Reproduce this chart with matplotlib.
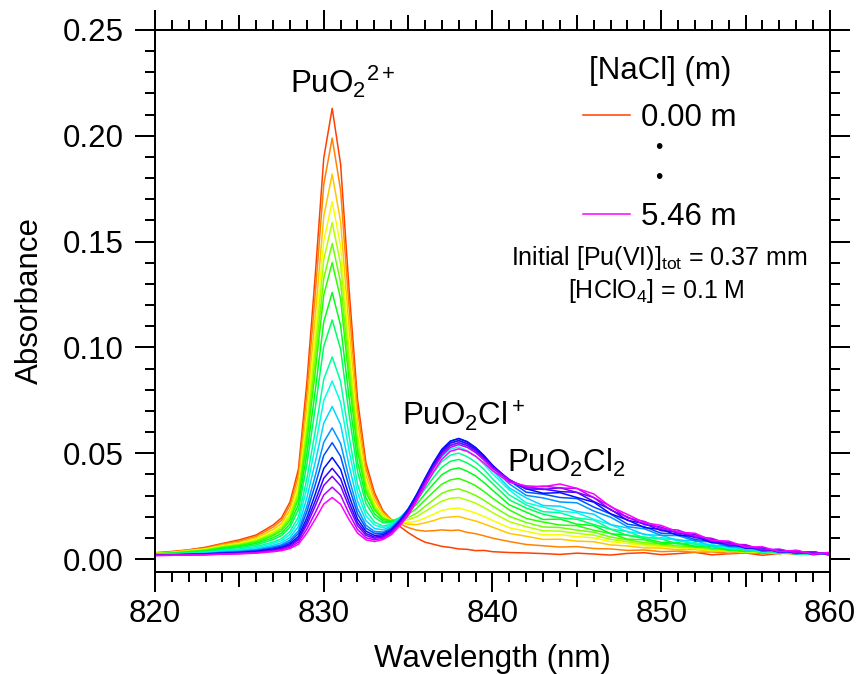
import matplotlib
matplotlib.use('Agg')
import matplotlib.pyplot as plt
import numpy as np
from matplotlib.colors import hsv_to_rgb
from matplotlib.ticker import MultipleLocator, FormatStrFormatter

plt.rcParams['font.family'] = ['Liberation Sans', 'DejaVu Sans']
plt.rcParams['mathtext.fontset'] = 'custom'
plt.rcParams['mathtext.rm'] = 'Liberation Sans'
plt.rcParams['mathtext.it'] = 'Liberation Sans:italic'
plt.rcParams['mathtext.default'] = 'regular'

# wavelength grid (nm)
wavelength = [820, 821, 822, 823, 824, 825, 826, 827,
              827.5, 828, 828.5, 829, 829.5, 830, 830.5, 831, 831.5, 832, 832.5, 833,
              833.5, 834, 834.5, 835, 835.5, 836, 836.5, 837, 837.5, 838, 838.5, 839,
              839.5, 840,
              841, 842, 843, 844, 845, 846, 847, 848, 849, 850, 851, 852, 853, 854,
              855, 856, 857, 858, 859, 860]

# absorbance spectra, [NaCl] = 0.00 m ... 5.46 m
s00 = [0.0030, 0.0036, 0.0044, 0.0056, 0.0074, 0.0091, 0.0114, 0.0161,
       0.0195, 0.0270, 0.0425, 0.0835, 0.1345, 0.1895, 0.2130, 0.1865, 0.1275, 0.0755, 0.0455, 0.0315,
       0.0230, 0.0185, 0.0155, 0.0125, 0.0100, 0.0080, 0.0070, 0.0060, 0.0055, 0.0048, 0.0046, 0.0040,
       0.0041, 0.0035,
       0.0031, 0.0029, 0.0026, 0.0022, 0.0028, 0.0024, 0.0019, 0.0027, 0.0030, 0.0021, 0.0026, 0.0032,
       0.0020, 0.0025, 0.0029, 0.0018, 0.0027, 0.0033, 0.0021, 0.0026]
s01 = [0.0029, 0.0034, 0.0043, 0.0052, 0.0071, 0.0085, 0.0108, 0.0151,
       0.0183, 0.0254, 0.0398, 0.0781, 0.1257, 0.1770, 0.1989, 0.1743, 0.1193, 0.0708, 0.0429, 0.0300,
       0.0225, 0.0188, 0.0167, 0.0149, 0.0137, 0.0132, 0.0134, 0.0138, 0.0135, 0.0137, 0.0126, 0.0120,
       0.0110, 0.0099,
       0.0083, 0.0069, 0.0063, 0.0057, 0.0059, 0.0050, 0.0048, 0.0041, 0.0043, 0.0035, 0.0038, 0.0032,
       0.0034, 0.0028, 0.0031, 0.0026, 0.0029, 0.0023, 0.0028, 0.0024]
s02 = [0.0028, 0.0032, 0.0041, 0.0049, 0.0066, 0.0079, 0.0100, 0.0139,
       0.0169, 0.0233, 0.0365, 0.0715, 0.1150, 0.1619, 0.1819, 0.1594, 0.1092, 0.0650, 0.0396, 0.0280,
       0.0214, 0.0184, 0.0173, 0.0165, 0.0163, 0.0171, 0.0182, 0.0195, 0.0199, 0.0201, 0.0190, 0.0180,
       0.0166, 0.0151,
       0.0121, 0.0108, 0.0093, 0.0094, 0.0085, 0.0082, 0.0067, 0.0062, 0.0053, 0.0052, 0.0044, 0.0045,
       0.0037, 0.0038, 0.0031, 0.0033, 0.0026, 0.0030, 0.0024, 0.0027]
s03 = [0.0027, 0.0031, 0.0039, 0.0047, 0.0062, 0.0074, 0.0094, 0.0130,
       0.0158, 0.0218, 0.0340, 0.0664, 0.1068, 0.1503, 0.1689, 0.1480, 0.1015, 0.0605, 0.0371, 0.0264,
       0.0204, 0.0181, 0.0174, 0.0173, 0.0179, 0.0194, 0.0212, 0.0230, 0.0238, 0.0241, 0.0230, 0.0218,
       0.0201, 0.0183,
       0.0148, 0.0131, 0.0115, 0.0115, 0.0106, 0.0100, 0.0082, 0.0074, 0.0063, 0.0060, 0.0052, 0.0051,
       0.0041, 0.0041, 0.0033, 0.0034, 0.0028, 0.0030, 0.0024, 0.0028]
s04 = [0.0026, 0.0030, 0.0037, 0.0045, 0.0060, 0.0071, 0.0089, 0.0123,
       0.0150, 0.0206, 0.0321, 0.0626, 0.1006, 0.1415, 0.1590, 0.1394, 0.0957, 0.0572, 0.0352, 0.0253,
       0.0199, 0.0181, 0.0180, 0.0186, 0.0200, 0.0225, 0.0250, 0.0274, 0.0287, 0.0291, 0.0279, 0.0264,
       0.0243, 0.0220,
       0.0177, 0.0153, 0.0134, 0.0132, 0.0122, 0.0113, 0.0093, 0.0082, 0.0070, 0.0066, 0.0056, 0.0055,
       0.0044, 0.0043, 0.0035, 0.0035, 0.0028, 0.0030, 0.0025, 0.0028]
s05 = [0.0025, 0.0029, 0.0036, 0.0043, 0.0057, 0.0067, 0.0085, 0.0117,
       0.0142, 0.0194, 0.0302, 0.0588, 0.0944, 0.1327, 0.1491, 0.1308, 0.0898, 0.0538, 0.0333, 0.0241,
       0.0193, 0.0179, 0.0184, 0.0196, 0.0217, 0.0249, 0.0280, 0.0311, 0.0326, 0.0332, 0.0318, 0.0301,
       0.0278, 0.0251,
       0.0202, 0.0173, 0.0152, 0.0149, 0.0137, 0.0127, 0.0104, 0.0091, 0.0077, 0.0072, 0.0062, 0.0059,
       0.0048, 0.0046, 0.0037, 0.0036, 0.0029, 0.0031, 0.0025, 0.0027]
s06 = [0.0025, 0.0028, 0.0035, 0.0041, 0.0054, 0.0064, 0.0080, 0.0111,
       0.0134, 0.0183, 0.0285, 0.0553, 0.0887, 0.1247, 0.1401, 0.1229, 0.0845, 0.0508, 0.0316, 0.0232,
       0.0189, 0.0180, 0.0190, 0.0210, 0.0239, 0.0279, 0.0318, 0.0354, 0.0374, 0.0381, 0.0366, 0.0347,
       0.0319, 0.0288,
       0.0232, 0.0192, 0.0175, 0.0161, 0.0158, 0.0136, 0.0121, 0.0094, 0.0091, 0.0071, 0.0075, 0.0056,
       0.0059, 0.0040, 0.0047, 0.0029, 0.0038, 0.0022, 0.0033, 0.0019]
s07 = [0.0024, 0.0027, 0.0033, 0.0038, 0.0050, 0.0059, 0.0074, 0.0101,
       0.0122, 0.0166, 0.0258, 0.0499, 0.0798, 0.1121, 0.1260, 0.1103, 0.0762, 0.0460, 0.0289, 0.0214,
       0.0180, 0.0177, 0.0195, 0.0221, 0.0259, 0.0308, 0.0355, 0.0399, 0.0422, 0.0431, 0.0415, 0.0393,
       0.0361, 0.0326,
       0.0256, 0.0222, 0.0187, 0.0189, 0.0165, 0.0158, 0.0120, 0.0113, 0.0097, 0.0079, 0.0078, 0.0061,
       0.0062, 0.0044, 0.0035, 0.0046, 0.0025, 0.0037, 0.0031, 0.0019]
s08 = [0.0023, 0.0026, 0.0031, 0.0036, 0.0046, 0.0054, 0.0067, 0.0092,
       0.0111, 0.0151, 0.0233, 0.0448, 0.0716, 0.1005, 0.1130, 0.0992, 0.0685, 0.0415, 0.0263, 0.0198,
       0.0171, 0.0173, 0.0196, 0.0228, 0.0276, 0.0331, 0.0385, 0.0434, 0.0462, 0.0471, 0.0454, 0.0430,
       0.0396, 0.0357,
       0.0280, 0.0241, 0.0212, 0.0195, 0.0188, 0.0163, 0.0141, 0.0112, 0.0104, 0.0095, 0.0071, 0.0078,
       0.0050, 0.0059, 0.0047, 0.0034, 0.0037, 0.0025, 0.0032, 0.0021]
s09 = [0.0022, 0.0024, 0.0028, 0.0033, 0.0041, 0.0048, 0.0059, 0.0080,
       0.0096, 0.0130, 0.0199, 0.0380, 0.0606, 0.0850, 0.0955, 0.0839, 0.0581, 0.0354, 0.0228, 0.0175,
       0.0156, 0.0164, 0.0193, 0.0231, 0.0285, 0.0346, 0.0407, 0.0461, 0.0491, 0.0501, 0.0484, 0.0458,
       0.0424, 0.0379,
       0.0303, 0.0256, 0.0224, 0.0219, 0.0194, 0.0185, 0.0142, 0.0130, 0.0100, 0.0101, 0.0088, 0.0070,
       0.0066, 0.0050, 0.0049, 0.0035, 0.0038, 0.0026, 0.0020, 0.0031]
s10 = [0.0021, 0.0023, 0.0027, 0.0030, 0.0038, 0.0044, 0.0054, 0.0073,
       0.0087, 0.0116, 0.0177, 0.0336, 0.0535, 0.0749, 0.0841, 0.0740, 0.0514, 0.0315, 0.0205, 0.0161,
       0.0148, 0.0160, 0.0193, 0.0236, 0.0295, 0.0363, 0.0428, 0.0485, 0.0519, 0.0530, 0.0513, 0.0486,
       0.0447, 0.0404,
       0.0326, 0.0266, 0.0246, 0.0227, 0.0219, 0.0188, 0.0163, 0.0129, 0.0119, 0.0096, 0.0093, 0.0074,
       0.0069, 0.0052, 0.0051, 0.0034, 0.0039, 0.0025, 0.0033, 0.0020]
s11 = [0.0020, 0.0022, 0.0025, 0.0028, 0.0035, 0.0040, 0.0048, 0.0065,
       0.0077, 0.0102, 0.0154, 0.0290, 0.0459, 0.0642, 0.0721, 0.0635, 0.0442, 0.0274, 0.0181, 0.0145,
       0.0138, 0.0154, 0.0190, 0.0237, 0.0302, 0.0373, 0.0443, 0.0502, 0.0539, 0.0549, 0.0534, 0.0505,
       0.0466, 0.0420,
       0.0336, 0.0289, 0.0253, 0.0250, 0.0225, 0.0212, 0.0163, 0.0147, 0.0116, 0.0112, 0.0088, 0.0088,
       0.0061, 0.0065, 0.0042, 0.0047, 0.0028, 0.0037, 0.0022, 0.0029]
s12 = [0.0019, 0.0021, 0.0024, 0.0026, 0.0032, 0.0036, 0.0043, 0.0058,
       0.0068, 0.0090, 0.0134, 0.0250, 0.0395, 0.0552, 0.0620, 0.0546, 0.0382, 0.0239, 0.0160, 0.0131,
       0.0128, 0.0147, 0.0187, 0.0236, 0.0303, 0.0377, 0.0449, 0.0510, 0.0548, 0.0560, 0.0544, 0.0516,
       0.0477, 0.0432,
       0.0355, 0.0301, 0.0289, 0.0270, 0.0266, 0.0227, 0.0198, 0.0153, 0.0143, 0.0112, 0.0111, 0.0085,
       0.0081, 0.0058, 0.0058, 0.0037, 0.0042, 0.0025, 0.0033, 0.0020]
s13 = [0.0019, 0.0020, 0.0023, 0.0025, 0.0030, 0.0034, 0.0040, 0.0053,
       0.0062, 0.0081, 0.0121, 0.0224, 0.0352, 0.0490, 0.0550, 0.0485, 0.0341, 0.0214, 0.0146, 0.0122,
       0.0122, 0.0143, 0.0184, 0.0236, 0.0305, 0.0382, 0.0455, 0.0518, 0.0557, 0.0569, 0.0554, 0.0526,
       0.0487, 0.0442,
       0.0370, 0.0316, 0.0307, 0.0291, 0.0286, 0.0246, 0.0213, 0.0165, 0.0153, 0.0122, 0.0119, 0.0092,
       0.0086, 0.0062, 0.0061, 0.0039, 0.0044, 0.0027, 0.0034, 0.0020]
s14 = [0.0018, 0.0019, 0.0022, 0.0024, 0.0028, 0.0031, 0.0037, 0.0048,
       0.0056, 0.0073, 0.0107, 0.0196, 0.0308, 0.0428, 0.0480, 0.0424, 0.0299, 0.0190, 0.0132, 0.0112,
       0.0115, 0.0138, 0.0180, 0.0233, 0.0303, 0.0380, 0.0454, 0.0518, 0.0557, 0.0570, 0.0555, 0.0527,
       0.0489, 0.0444,
       0.0369, 0.0332, 0.0311, 0.0314, 0.0291, 0.0269, 0.0214, 0.0185, 0.0149, 0.0140, 0.0112, 0.0108,
       0.0077, 0.0076, 0.0051, 0.0053, 0.0032, 0.0039, 0.0023, 0.0030]
s15 = [0.0018, 0.0019, 0.0021, 0.0023, 0.0027, 0.0029, 0.0034, 0.0044,
       0.0052, 0.0067, 0.0097, 0.0177, 0.0276, 0.0382, 0.0429, 0.0380, 0.0269, 0.0172, 0.0121, 0.0104,
       0.0109, 0.0132, 0.0174, 0.0227, 0.0296, 0.0373, 0.0446, 0.0509, 0.0548, 0.0560, 0.0546, 0.0519,
       0.0483, 0.0440,
       0.0376, 0.0331, 0.0331, 0.0319, 0.0315, 0.0272, 0.0235, 0.0183, 0.0168, 0.0134, 0.0129, 0.0101,
       0.0093, 0.0067, 0.0065, 0.0042, 0.0045, 0.0028, 0.0034, 0.0021]
s16 = [0.0018, 0.0019, 0.0020, 0.0022, 0.0025, 0.0028, 0.0032, 0.0042,
       0.0048, 0.0062, 0.0090, 0.0162, 0.0252, 0.0348, 0.0391, 0.0346, 0.0246, 0.0158, 0.0112, 0.0098,
       0.0104, 0.0128, 0.0169, 0.0221, 0.0290, 0.0365, 0.0437, 0.0499, 0.0537, 0.0550, 0.0537, 0.0511,
       0.0475, 0.0435,
       0.0369, 0.0342, 0.0329, 0.0337, 0.0315, 0.0291, 0.0232, 0.0199, 0.0163, 0.0151, 0.0121, 0.0116,
       0.0083, 0.0081, 0.0054, 0.0055, 0.0034, 0.0040, 0.0022, 0.0031]
s17 = [0.0017, 0.0018, 0.0020, 0.0021, 0.0024, 0.0026, 0.0030, 0.0038,
       0.0044, 0.0056, 0.0080, 0.0142, 0.0220, 0.0303, 0.0340, 0.0302, 0.0215, 0.0140, 0.0101, 0.0091,
       0.0098, 0.0122, 0.0164, 0.0216, 0.0283, 0.0358, 0.0429, 0.0490, 0.0528, 0.0541, 0.0528, 0.0503,
       0.0469, 0.0430,
       0.0374, 0.0337, 0.0345, 0.0336, 0.0334, 0.0290, 0.0250, 0.0195, 0.0178, 0.0143, 0.0137, 0.0107,
       0.0098, 0.0071, 0.0068, 0.0044, 0.0047, 0.0029, 0.0035, 0.0020]
s18 = [0.0017, 0.0018, 0.0019, 0.0020, 0.0023, 0.0025, 0.0028, 0.0035,
       0.0040, 0.0050, 0.0070, 0.0123, 0.0189, 0.0260, 0.0291, 0.0259, 0.0186, 0.0123, 0.0091, 0.0083,
       0.0092, 0.0115, 0.0156, 0.0206, 0.0272, 0.0344, 0.0412, 0.0472, 0.0509, 0.0521, 0.0509, 0.0486,
       0.0454, 0.0418,
       0.0363, 0.0346, 0.0342, 0.0355, 0.0334, 0.0308, 0.0247, 0.0211, 0.0172, 0.0159, 0.0128, 0.0122,
       0.0088, 0.0085, 0.0057, 0.0058, 0.0035, 0.0042, 0.0023, 0.0032]

spectra = [s00, s01, s02, s03, s04, s05, s06, s07, s08, s09,
           s10, s11, s12, s13, s14, s15, s16, s17, s18]
legend_labels = ['0.00 m', '5.46 m']

PX = 0.72  # points per pixel at 100 dpi
FS = 22.5

fig = plt.figure(figsize=(8.59, 6.74), dpi=100)
ax = fig.add_axes([155 / 859, 1 - 572 / 674, 675 / 859, 542 / 674])

# rainbow: orange-red -> magenta
hues = np.linspace(15, 300, len(spectra)) / 360.0
colors = [hsv_to_rgb((h, 1.0, 1.0)) for h in hues]

lines = []
for s, c in zip(spectra, colors):
    ln, = ax.plot(wavelength, s, color=c, lw=1.1)
    lines.append(ln)

ax.set_xlim(820, 860)
ax.set_ylim(-0.0061, 0.25)

ax.xaxis.set_major_locator(MultipleLocator(10))
ax.xaxis.set_minor_locator(MultipleLocator(1))
ax.yaxis.set_major_locator(MultipleLocator(0.05))
ax.yaxis.set_minor_locator(MultipleLocator(0.01))
ax.yaxis.set_major_formatter(FormatStrFormatter('%.2f'))

ax.tick_params(which='both', direction='out', top=True, right=True,
               width=2 * PX, labelsize=FS, color='black')
ax.tick_params(which='major', length=20 * PX)
ax.tick_params(which='minor', length=10 * PX)
ax.tick_params(axis='x', pad=5)
ax.tick_params(axis='y', pad=8)
for sp in ax.spines.values():
    sp.set_linewidth(2 * PX)

# medium ticks at the half decades, Igor style
for side in ('bottom', 'top'):
    sec = ax.secondary_xaxis(side)
    sec.set_xticks([825, 835, 845, 855])
    sec.tick_params(direction='out', length=15 * PX, width=2 * PX,
                    labelbottom=False, labeltop=False)
    for sp in sec.spines.values():
        sp.set_visible(False)

ax.set_xlabel('Wavelength (nm)', fontsize=FS)
ax.set_ylabel('Absorbance', fontsize=FS)
ax.xaxis.set_label_coords(0.5, -0.133)
ax.yaxis.set_label_coords(-0.163, 0.5)

# species labels
ax.text(828.0, 0.2202, r'PuO$_2{}^{2+}$', fontsize=FS, ha='left', va='baseline')
ax.text(838.3, 0.0633, r'PuO$_2$Cl$^+$', fontsize=FS, ha='center', va='baseline')
ax.text(844.35, 0.0411, r'PuO$_2$Cl$_2$', fontsize=FS, ha='center', va='baseline')

# legend
ax.text(0.749, 0.925, '[NaCl] (m)', transform=ax.transAxes, fontsize=FS,
        ha='center', va='center')
ax.legend([lines[0], lines[-1]], legend_labels, loc='upper left',
          bbox_to_anchor=(0.634, 0.865), frameon=False, fontsize=FS,
          borderpad=0, borderaxespad=0, handlelength=1.5, handletextpad=0.35,
          labelspacing=2.2)
ax.text(0.7467, 0.784, '\u2022', transform=ax.transAxes, fontsize=15,
        ha='center', va='center')
ax.text(0.7467, 0.727, '\u2022', transform=ax.transAxes, fontsize=15,
        ha='center', va='center')

ax.text(0.747, 0.580, r'Initial [Pu(VI)]$_{tot}$ = 0.37 mm', transform=ax.transAxes,
        fontsize=18, ha='center', va='center')
ax.text(0.742, 0.518, r'[HClO$_4$] = 0.1 M', transform=ax.transAxes,
        fontsize=18, ha='center', va='center')

fig.savefig('out.png', dpi=100)
